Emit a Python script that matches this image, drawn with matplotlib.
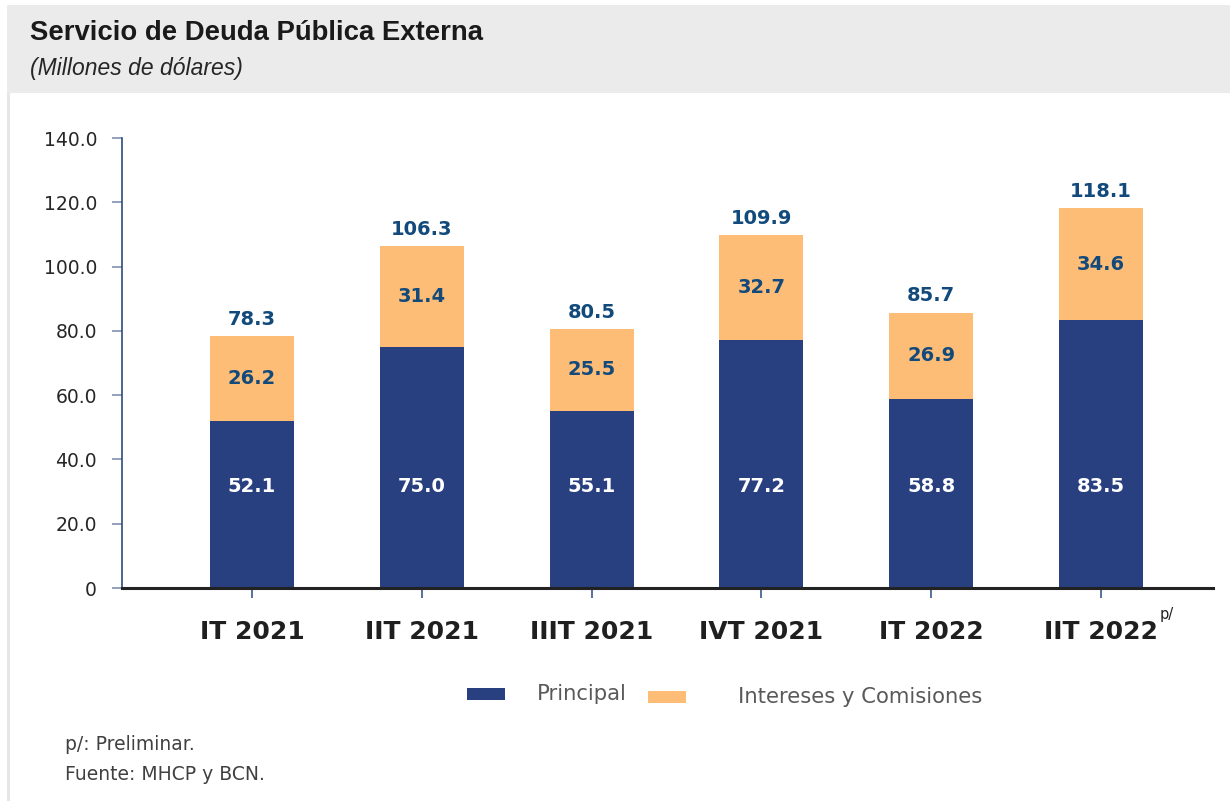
import matplotlib
matplotlib.use("Agg")
import matplotlib.pyplot as plt
from matplotlib.patches import Rectangle
from matplotlib.ticker import FuncFormatter
import numpy as np

# ---- data ----
categories = ["IT 2021", "IIT 2021", "IIIT 2021", "IVT 2021", "IT 2022", "IIT 2022"]
principal = [52.1, 75.0, 55.1, 77.2, 58.8, 83.5]
intereses = [26.2, 31.4, 25.5, 32.7, 26.9, 34.6]
totales = [78.3, 106.3, 80.5, 109.9, 85.7, 118.1]
yticks = [0, 20, 40, 60, 80, 100, 120, 140]
series_names = ["Principal", "Intereses y Comisiones"]

NAVY = "#283F80"
ORANGE = "#FDBD77"
LABEL_BLUE = "#124A7C"

W, H = 1230, 801
fig = plt.figure(figsize=(W / 100, H / 100), dpi=100)
fig.patch.set_facecolor("white")

def fx(px):
    return px / W

def fy(py):
    return 1 - py / H

# header band and left border
fig.add_artist(Rectangle((fx(7), fy(93)), fx(1230 - 7), (88) / H,
                         transform=fig.transFigure, facecolor="#EBEBEB",
                         edgecolor="none", zorder=0))
fig.add_artist(Rectangle((fx(7), 0), fx(3), fy(93),
                         transform=fig.transFigure, facecolor="#E6E6E6",
                         edgecolor="none", zorder=0))

fig.text(fx(30), fy(33), "Servicio de Deuda Pública Externa",
         family="Liberation Sans", weight="bold", fontsize=19.8,
         color="#1A1A1A", va="center", ha="left")
fig.text(fx(30), fy(69), "(Millones de dólares)",
         family="Liberation Sans", style="italic", fontsize=16.5,
         color="#262626", va="center", ha="left")

ax = fig.add_axes([fx(122), fy(588), fx(1213 - 122), (588 - 138) / H])
x = np.arange(len(categories))
bw = 0.495
ax.bar(x, principal, width=bw, color=NAVY, zorder=2)
ax.bar(x, intereses, width=bw, bottom=principal, color=ORANGE, zorder=2)

ax.set_xlim(-0.766, 5.66)
ax.set_ylim(0, 140)

for i in range(len(categories)):
    ax.text(x[i], 31.5, f"{principal[i]:.1f}", ha="center", va="center",
            color="white", fontsize=14, weight="bold", family="DejaVu Sans")
    ax.text(x[i], principal[i] + intereses[i] / 2, f"{intereses[i]:.1f}",
            ha="center", va="center", color=LABEL_BLUE, fontsize=14,
            weight="bold", family="DejaVu Sans")
    ax.text(x[i], principal[i] + intereses[i] + 2.2, f"{totales[i]:.1f}",
            ha="center", va="bottom", color=LABEL_BLUE, fontsize=14,
            weight="bold", family="DejaVu Sans")

ax.set_yticks(yticks)
ax.yaxis.set_major_formatter(FuncFormatter(lambda v, p: "0" if v == 0 else f"{v:.1f}"))
ax.tick_params(axis="y", direction="out", length=7, width=1.3, color="#8A9AB8",
               pad=11, labelsize=13.5, labelcolor="#262626")
ax.set_xticks(x)
ax.set_xticklabels(categories)
ax.tick_params(axis="x", direction="out", length=7, width=1.2, color="#3A5A90",
               pad=16, labelsize=18, labelcolor="#1F1F1F")
for lab in ax.get_xticklabels():
    lab.set_fontweight("bold")

for s in ["top", "right"]:
    ax.spines[s].set_visible(False)
ax.spines["left"].set_color("#2E4A7D")
ax.spines["left"].set_linewidth(1.2)
ax.spines["bottom"].set_color("#222222")
ax.spines["bottom"].set_linewidth(2.2)
ax.spines["bottom"].set_zorder(3)

# superscript on last category
fig.text(fx(1160), fy(614), "p/", fontsize=10.5, color="#222222",
         ha="left", va="center")

# legend
fig.add_artist(Rectangle((fx(467), fy(700)), fx(38), 12 / H,
                         transform=fig.transFigure, facecolor=NAVY, edgecolor="none"))
fig.text(fx(537), fy(694), series_names[0], fontsize=15.2, color="#595959",
         ha="left", va="center")
fig.add_artist(Rectangle((fx(648), fy(703)), fx(38), 12 / H,
                         transform=fig.transFigure, facecolor=ORANGE, edgecolor="none"))
fig.text(fx(738), fy(697), series_names[1], fontsize=15.2, color="#595959",
         ha="left", va="center")

# footnotes
fig.text(fx(65), fy(744), "p/: Preliminar.", fontsize=13.5, color="#404040",
         ha="left", va="center")
fig.text(fx(65), fy(775), "Fuente: MHCP y BCN.", fontsize=13.5, color="#404040",
         ha="left", va="center")

fig.savefig("out.png", dpi=100, facecolor="white")
